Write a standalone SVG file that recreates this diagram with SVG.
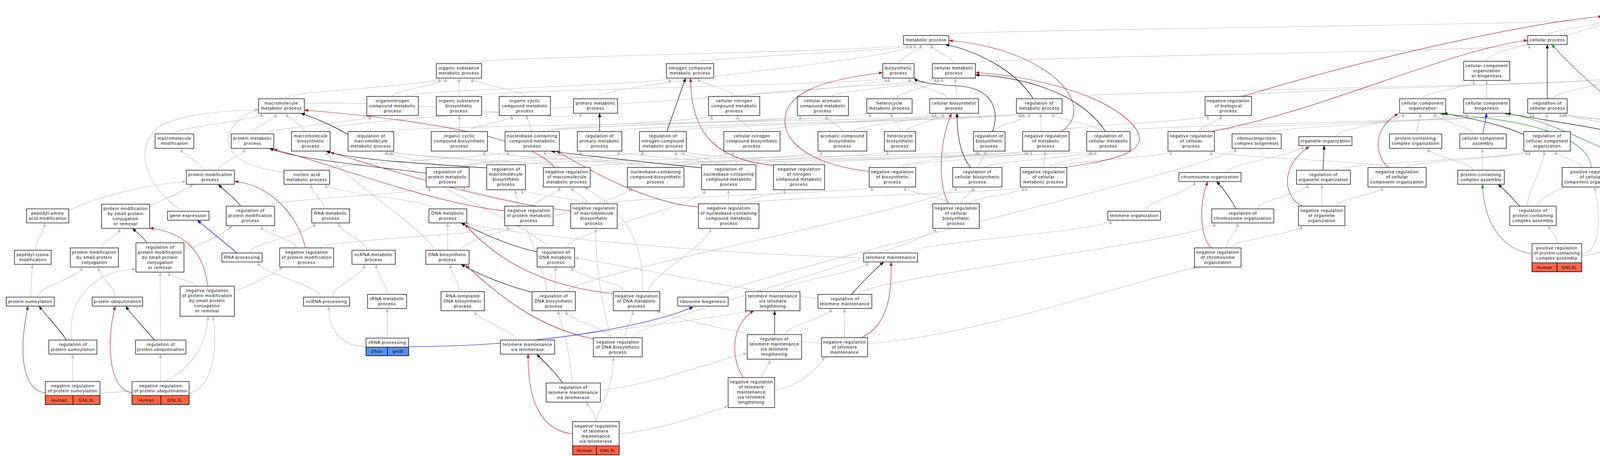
<svg xmlns="http://www.w3.org/2000/svg" width="5100" height="1168" viewBox="0 0 5100 1168">
<style>
.n rect{fill:#fff;stroke:#000;stroke-width:1.3}
.n rect.h{fill:#FF6347}
.n rect.z{fill:#5B8DEF}
.n text{font-family:"Liberation Sans",Arial,sans-serif;font-size:11px;letter-spacing:0.9px;text-anchor:middle;fill:#000}
#edges path{fill:none;stroke-width:1.2}
#edges .g path{stroke:#C0C0C0;marker-end:url(#ag)}
#edges .k path{stroke:#000;marker-end:url(#ak)}
#edges .r path{stroke:#B22222;marker-end:url(#ar)}
#edges .e path{stroke:#228B22;marker-end:url(#an)}
#edges .b path{stroke:#0000FF;marker-end:url(#ab)}
</style>
<defs>
<marker id="ag" viewBox="0 0 10 8" refX="10" refY="4" markerWidth="11" markerHeight="8" markerUnits="userSpaceOnUse" orient="auto"><path d="M0,0L10,4L0,8z" fill="#C0C0C0"/></marker>
<marker id="ak" viewBox="0 0 10 8" refX="10" refY="4" markerWidth="11" markerHeight="8" markerUnits="userSpaceOnUse" orient="auto"><path d="M0,0L10,4L0,8z" fill="#000"/></marker>
<marker id="ar" viewBox="0 0 10 8" refX="10" refY="4" markerWidth="11" markerHeight="8" markerUnits="userSpaceOnUse" orient="auto"><path d="M0,0L10,4L0,8z" fill="#B22222"/></marker>
<marker id="an" viewBox="0 0 10 8" refX="10" refY="4" markerWidth="11" markerHeight="8" markerUnits="userSpaceOnUse" orient="auto"><path d="M0,0L10,4L0,8z" fill="#228B22"/></marker>
<marker id="ab" viewBox="0 0 10 8" refX="10" refY="4" markerWidth="11" markerHeight="8" markerUnits="userSpaceOnUse" orient="auto"><path d="M0,0L10,4L0,8z" fill="#0000FF"/></marker>
</defs>
<rect width="5100" height="1168" fill="#fff"/>
<g id="edges">
<g class="g">
<path d="M2371 91C2371 76 4110 63 4110 48"/>
<path d="M3961 91C3961 76 4121 63 4121 48"/>
<path d="M4389 91C4389 76 4207 63 4207 48"/>
<path d="M4631 91C4631 76 4213 63 4213 48"/>
<path d="M3806 157C3806 119 4110 86 4110 48"/>
<path d="M4162 163C4162 146 4577 131 4577 114"/>
<path d="M1175 163C1175 146 2322 131 2322 114"/>
<path d="M1524 253C1524 213 2332 154 2332 114"/>
<path d="M1766 163C1766 146 2342 131 2342 114"/>
<path d="M2300 163C2300 146 2357 131 2357 114"/>
<path d="M2442 163C2442 146 2385 131 2385 114"/>
<path d="M2470 163C2470 146 3915 131 3915 114"/>
<path d="M4426 170C4426 150 4396 134 4396 114"/>
<path d="M4581 163C4581 146 4419 131 4419 114"/>
<path d="M4730 163C4730 146 4651 131 4651 114"/>
<path d="M4887 163C4887 146 4682 131 4682 114"/>
<path d="M720 253C720 234 1125 219 1125 200"/>
<path d="M1005 247C1005 231 1141 216 1141 200"/>
<path d="M1175 247L1175 200"/>
<path d="M1343 247C1343 231 1209 216 1209 200"/>
<path d="M1040 247C1040 231 1714 216 1714 200"/>
<path d="M1879 247C1879 231 1789 216 1789 200"/>
<path d="M1200 247C1200 231 2268 216 2268 200"/>
<path d="M820 337C820 297 2275 240 2275 200"/>
<path d="M2425 253C2425 234 2328 219 2328 200"/>
<path d="M1910 247C1910 231 2395 216 2395 200"/>
<path d="M2130 247C2130 231 2402 216 2402 200"/>
<path d="M2295 253C2295 234 2412 219 2412 200"/>
<path d="M2450 253L2445 200"/>
<path d="M3642 253C3642 237 3773 222 3773 206"/>
<path d="M3806 253L3806 206"/>
<path d="M2690 253C2690 234 4113 219 4113 200"/>
<path d="M3975 253C3975 234 4122 219 4122 200"/>
<path d="M4181 247C4181 231 4166 216 4166 200"/>
<path d="M3170 247C3170 231 4118 216 4118 200"/>
<path d="M4326 253C4326 234 4195 219 4195 200"/>
<path d="M4563 253C4563 232 4453 214 4453 193"/>
<path d="M4575 253C4575 234 4578 219 4578 200"/>
<path d="M4729 242L4729 200"/>
<path d="M4886 247L4886 200"/>
<path d="M5031 253C5031 234 4916 219 4916 200"/>
<path d="M446 343C446 324 670 309 670 290"/>
<path d="M646 343C646 324 705 309 705 290"/>
<path d="M780 337C780 321 735 306 735 290"/>
<path d="M727 440C560 425 540 330 662 278"/>
<path d="M468 541C400 500 330 400 400 330C450 290 600 282 662 282"/>
<path d="M680 343C680 327 947 312 947 296"/>
<path d="M1176 337L1176 296"/>
<path d="M1200 337C1200 323 1310 310 1310 296"/>
<path d="M1362 337L1347 296"/>
<path d="M779 265C1100 255 1470 320 1490 290"/>
<path d="M1390 337C1390 323 1822 310 1822 296"/>
<path d="M1925 337C1925 323 1888 310 1888 296"/>
<path d="M1400 337C1400 323 2049 310 2049 296"/>
<path d="M2156 337C2156 323 2116 310 2116 296"/>
<path d="M1410 337C1410 321 2227 306 2227 290"/>
<path d="M2304 337C2304 321 2282 306 2282 290"/>
<path d="M1950 337C1950 321 2388 306 2388 290"/>
<path d="M2180 337C2180 321 2395 306 2395 290"/>
<path d="M2320 337C2320 321 2414 306 2414 290"/>
<path d="M975 337C975 321 2610 306 2610 290"/>
<path d="M1560 337C1560 321 2615 306 2615 290"/>
<path d="M1720 337C1720 321 2620 306 2620 290"/>
<path d="M2545 337C2545 321 2635 306 2635 290"/>
<path d="M2665 337L2664 290"/>
<path d="M2820 337C2820 321 2696 306 2696 290"/>
<path d="M2700 337C2700 323 3092 310 3092 296"/>
<path d="M3070 337C3070 323 3125 310 3125 296"/>
<path d="M3420 350C3420 329 3592 311 3592 290"/>
<path d="M3624 343L3638 290"/>
<path d="M3770 343C3770 324 3673 309 3673 290"/>
<path d="M3240 343C3240 324 3755 309 3755 290"/>
<path d="M3960 337L3960 290"/>
<path d="M4210 337C4210 321 4003 306 4003 290"/>
<path d="M4370 337C4370 321 3995 306 3995 290"/>
<path d="M3080 337C3080 321 3919 306 3919 290"/>
<path d="M2860 337C2860 321 3925 306 3925 290"/>
<path d="M4520 343C4520 324 4008 309 4008 290"/>
<path d="M4400 337C4400 323 4223 310 4223 296"/>
<path d="M4540 343C4540 324 4359 309 4359 290"/>
<path d="M4700 350C4700 329 4594 311 4594 290"/>
<path d="M4886 343L4886 296"/>
<path d="M4910 343C4910 324 5002 309 5002 290"/>
<path d="M5037 343L5032 290"/>
<path d="M520 436C520 416 465 400 465 380"/>
<path d="M560 436C560 416 625 400 625 380"/>
<path d="M1130 429C1130 414 988 402 988 387"/>
<path d="M1280 422C1280 410 1000 399 1000 387"/>
<path d="M1430 429C1430 414 1004 402 1004 387"/>
<path d="M1400 635C1400 595 992 427 992 387"/>
<path d="M1650 429C1650 414 1240 402 1240 387"/>
<path d="M820 436C820 419 1300 404 1300 387"/>
<path d="M1660 429C1660 414 1395 402 1395 387"/>
<path d="M1840 422C1840 410 1584 399 1584 387"/>
<path d="M1170 429C1170 414 1486 402 1486 387"/>
<path d="M1850 422C1850 410 1731 399 1731 387"/>
<path d="M2030 422C2030 410 1749 399 1749 387"/>
<path d="M1180 429C1180 414 1645 402 1645 387"/>
<path d="M1700 429C1700 414 1876 402 1876 387"/>
<path d="M1710 429C1710 414 2102 402 2102 387"/>
<path d="M1720 429C1720 414 2272 402 2272 387"/>
<path d="M1310 422C1310 410 2500 399 2500 387"/>
<path d="M2300 429C2300 414 2505 402 2505 387"/>
<path d="M2502 429L2526 387"/>
<path d="M1470 429C1470 414 2625 402 2625 387"/>
<path d="M2060 422C2060 410 2630 399 2630 387"/>
<path d="M2310 429C2310 414 2640 402 2640 387"/>
<path d="M2671 429L2676 387"/>
<path d="M1880 422C1880 410 2790 399 2790 387"/>
<path d="M2520 429C2520 414 2795 402 2795 387"/>
<path d="M2690 429C2690 414 2804 402 2804 387"/>
<path d="M2700 429C2700 414 2997 402 2997 387"/>
<path d="M3550 429C3550 414 3101 402 3101 387"/>
<path d="M1830 761C1830 721 3162 420 3162 380"/>
<path d="M3140 442C3140 418 3334 397 3334 373"/>
<path d="M3770 436C3770 416 3657 400 3657 380"/>
<path d="M3795 436L3795 380"/>
<path d="M3420 436C3420 419 3908 404 3908 387"/>
<path d="M3600 429C3600 414 3915 402 3915 387"/>
<path d="M4050 429C4050 414 3983 402 3983 387"/>
<path d="M3910 528C3910 488 3953 427 3953 387"/>
<path d="M4250 429C4250 414 4234 402 4234 387"/>
<path d="M3935 528C3935 488 4175 427 4175 387"/>
<path d="M4100 429C4100 414 4339 402 4339 387"/>
<path d="M4280 429C4280 414 4364 402 4364 387"/>
<path d="M4530 535C4530 495 4420 427 4420 387"/>
<path d="M4551 436L4551 380"/>
<path d="M4760 436C4760 414 4728 395 4728 373"/>
<path d="M4922 446C4890 446 4886 420 4888 380"/>
<path d="M5042 446C5070 446 5065 410 5050 380"/>
<path d="M176 540C250 500 400 470 477 465"/>
<path d="M383 528C420 510 470 490 495 472"/>
<path d="M830 535C830 513 797 494 797 472"/>
<path d="M1110 535C1110 513 835 494 835 472"/>
<path d="M680 528C680 511 1099 496 1099 479"/>
<path d="M1340 528C1340 511 1188 496 1188 479"/>
<path d="M1500 522C1500 510 1337 498 1337 486"/>
<path d="M1400 747C1400 707 1320 526 1320 486"/>
<path d="M1370 528C1370 511 1432 496 1432 479"/>
<path d="M1505 522C1505 507 1465 494 1465 479"/>
<path d="M1645 747C1650 620 1600 540 1495 479"/>
<path d="M1180 641C1180 601 1614 519 1614 479"/>
<path d="M1450 635C1450 595 1803 526 1803 486"/>
<path d="M1865 522L1865 486"/>
<path d="M1890 522C1890 510 2009 498 2009 486"/>
<path d="M1545 522C1545 507 2232 494 2232 479"/>
<path d="M2430 522C2430 507 2317 494 2317 479"/>
<path d="M2460 522C2460 507 2491 494 2491 479"/>
<path d="M1450 747C1450 707 2447 519 2447 479"/>
<path d="M1900 522C1900 507 2619 494 2619 479"/>
<path d="M2480 522C2480 507 2627 494 2627 479"/>
<path d="M2930 541C2930 514 3058 492 3058 465"/>
<path d="M3220 535C3220 513 3347 494 3347 472"/>
<path d="M3384 528L3384 472"/>
<path d="M3420 528C3420 511 3538 496 3538 479"/>
<path d="M4049 650C4095 650 4100 560 4082 479"/>
<path d="M4049 655C4150 650 4200 560 4240 479"/>
<path d="M3987 624C3985 605 3975 595 3962 578"/>
<path d="M4544 535L4550 472"/>
<path d="M4665 741C4680 600 4650 500 4590 472"/>
<path d="M4767 535L4767 472"/>
<path d="M260 635C260 618 305 602 305 585"/>
<path d="M90 641C90 617 114 595 114 571"/>
<path d="M471 640C520 625 570 600 595 578"/>
<path d="M760 635C760 615 670 598 670 578"/>
<path d="M640 648C640 621 805 598 805 571"/>
<path d="M940 641C940 617 868 595 868 571"/>
<path d="M1146 641L1146 571"/>
<path d="M2211 660C1800 650 1300 600 1190 571"/>
<path d="M820 635C820 615 1300 598 1300 578"/>
<path d="M1565 865C1540 780 1525 680 1525 585"/>
<path d="M1660 747C1660 707 1818 625 1818 585"/>
<path d="M1620 865C1620 825 2395 625 2395 585"/>
<path d="M2330 648C2330 620 2843 592 2843 564"/>
<path d="M3140 635C3140 613 3168 593 3168 571"/>
<path d="M2200 754C2200 714 3109 611 3109 571"/>
<path d="M3150 635C3150 615 3331 598 3331 578"/>
<path d="M4590 877C4500 870 4505 700 4535 571"/>
<path d="M4767 635L4767 571"/>
<path d="M78 761L83 677"/>
<path d="M95 761C95 734 208 711 208 684"/>
<path d="M295 761C295 734 253 711 253 684"/>
<path d="M183 871C170 760 250 690 348 690"/>
<path d="M411 871L410 697"/>
<path d="M500 733C500 720 433 710 433 697"/>
<path d="M820 761C820 730 662 702 662 671"/>
<path d="M600 745C650 730 700 700 725 684"/>
<path d="M850 761C850 732 932 706 932 677"/>
<path d="M991 754C991 727 963 704 963 677"/>
<path d="M1175 747C1175 722 1153 702 1153 677"/>
<path d="M1420 747L1422 684"/>
<path d="M1600 747C1600 725 1465 706 1465 684"/>
<path d="M2094 765C1900 745 1600 680 1471 660"/>
<path d="M2000 747C2000 720 2220 698 2220 671"/>
<path d="M2221 880C2500 860 2900 720 3065 684"/>
<path d="M1560 865C1560 841 1450 820 1450 796"/>
<path d="M1465 981C1460 900 1440 840 1428 796"/>
<path d="M1600 865C1600 841 1620 820 1620 796"/>
<path d="M2103 880C1900 860 1750 820 1680 796"/>
<path d="M1400 871C1500 850 1850 815 1916 796"/>
<path d="M1320 871C1320 847 1217 820 1217 796"/>
<path d="M2010 857C2010 834 2127 813 2127 790"/>
<path d="M2162 865L2162 790"/>
<path d="M4657 847L4657 803"/>
<path d="M186 977L186 907"/>
<path d="M411 977L411 907"/>
<path d="M256 1006C400 1006 520 960 533 810"/>
<path d="M484 1006C540 1000 560 900 545 810"/>
<path d="M937 888C870 888 840 840 842 784"/>
<path d="M991 866L991 790"/>
<path d="M1525 1080C1525 1060 1510 1045 1500 1030"/>
<path d="M1525 1080C1535 1040 1570 1000 1570 914"/>
<path d="M1585 1111C1700 1100 1800 1060 1864 1040"/>
<path d="M1950 967C1950 950 1970 938 1970 921"/>
<path d="M1983 1000C2040 990 2090 950 2111 914"/>
<path d="M1537 1000C1700 980 1850 915 1913 905"/>
<path d="M1110 641C1110 601 837 427 837 387"/>
</g>
<g class="k">
<path d="M4162 163L4161 48"/>
<path d="M2645 253C2600 180 2500 130 2420 114"/>
<path d="M2830 337C2760 230 2600 195 2497 192"/>
<path d="M3961 253L3961 114"/>
<path d="M4326 253C4320 170 4340 130 4376 114"/>
<path d="M4515 343C4460 320 4430 260 4430 193"/>
<path d="M891 345C850 320 800 300 770 290"/>
<path d="M1535 337L1535 290"/>
<path d="M1707 337L1755 200"/>
<path d="M2541 337C2560 280 2540 225 2450 220C2380 216 2350 210 2340 200"/>
<path d="M2485 429C2460 400 2450 350 2450 290"/>
<path d="M1091 444C1000 430 760 410 690 380"/>
<path d="M1246 430C1100 420 900 410 835 387"/>
<path d="M616 528C600 505 575 490 559 472"/>
<path d="M1796 430C1700 420 1500 400 1410 387"/>
<path d="M1375 645C1300 630 1220 590 1180 571"/>
<path d="M1370 750C1300 735 1220 700 1180 677"/>
<path d="M3387 436L3390 373"/>
<path d="M3165 535C3150 510 3130 480 3114 465"/>
<path d="M3901 345C3850 320 3750 300 3695 290"/>
<path d="M4168 345C4050 320 3900 300 3857 290"/>
<path d="M3890 528C3870 505 3850 485 3835 472"/>
<path d="M4585 436C4620 420 4660 395 4685 373"/>
<path d="M4690 741C4710 720 4730 700 4745 684"/>
<path d="M376 622C370 610 350 595 339 585"/>
<path d="M170 871C150 840 115 805 100 784"/>
<path d="M395 871C370 840 335 805 322 784"/>
<path d="M2180 754C2200 730 2240 690 2262 671"/>
<path d="M1983 857L1983 796"/>
<path d="M1440 981C1420 950 1390 925 1374 907"/>
</g>
<g class="r">
<path d="M3180 247C3500 150 3900 60 4102 42"/>
<path d="M2717 337C2790 290 2740 180 2550 125C2500 112 2460 106 2429 104"/>
<path d="M2725 429C2850 410 2960 390 2900 320C2820 230 2600 190 2497 186"/>
<path d="M3100 337C3400 280 3700 130 3911 103"/>
<path d="M1420 429C1350 340 1000 300 779 282"/>
<path d="M1292 540C1100 520 850 420 700 382"/>
<path d="M1461 540C1250 520 950 420 845 390"/>
<path d="M1985 424C1820 410 1768 330 1768 200"/>
<path d="M2225 439C2100 425 2020 380 2010 320C2000 240 2100 205 2260 186"/>
<path d="M2428 522C2400 470 2405 360 2436 290"/>
<path d="M1788 530C1650 520 1500 430 1425 387"/>
<path d="M782 635C760 540 680 470 600 465"/>
<path d="M1570 752C1450 740 1300 700 1190 574"/>
<path d="M1519 868C1380 840 1280 760 1192 679"/>
<path d="M3100 635C3070 600 3070 520 3092 465"/>
<path d="M3335 528C3290 510 3270 430 3352 375"/>
<path d="M3555 429C3520 400 3510 330 3580 291"/>
<path d="M532 733C520 640 470 595 383 584"/>
<path d="M116 1006C50 1000 50 880 72 784"/>
<path d="M338 1006C280 1000 270 880 295 784"/>
<path d="M2205 865C2260 840 2285 780 2281 671"/>
<path d="M1903 967C1870 920 1870 830 1930 796"/>
<path d="M1466 1111C1400 1105 1350 1050 1352 907"/>
</g>
<g class="e">
<path d="M4217 247C4260 220 4270 130 4182 48"/>
<path d="M4332 345C4200 330 4100 250 3972 114"/>
<path d="M4074 429C4070 380 4000 310 3687 292"/>
<path d="M4208 429C4100 380 3950 300 3850 290"/>
<path d="M3922 650C3850 640 3800 580 3795 472"/>
<path d="M4575 535C4640 510 4680 440 4708 373"/>
<path d="M4725 877C4790 870 4790 780 4772 684"/>
</g>
<g class="b">
<path d="M607 648L505 564"/>
<path d="M1046 888C1350 888 1650 840 1775 786"/>
<path d="M3796 343L3806 290"/>
</g>
</g>
<g id="nodes">
<g id="bp" class="n"><rect x="4102" y="12" width="119" height="36"/><text x="4161.5" y="27">Biological Process<tspan x="4161.5" dy="13">Gnl3l</tspan></text></g>
<g id="metab" class="n"><rect x="2313" y="91" width="116" height="23"/><text x="2371" y="106">metabolic process</text></g>
<g id="cellproc" class="n"><rect x="3911" y="91" width="101" height="23"/><text x="3961.5" y="106">cellular process</text></g>
<g id="loc" class="n"><rect x="4351" y="91" width="76" height="23"/><text x="4389" y="106">localization</text></g>
<g id="bioreg" class="n"><rect x="4569" y="91" width="124" height="23"/><text x="4631" y="106">biological regulation</text></g>
<g id="osmp" class="n"><rect x="1117" y="163" width="116" height="37"/><text x="1175" y="178">organic substance<tspan x="1175" dy="13">metabolic process</tspan></text></g>
<g id="ncmp" class="n"><rect x="1706" y="163" width="121" height="37"/><text x="1766.5" y="178">nitrogen compound<tspan x="1766.5" dy="13">metabolic process</tspan></text></g>
<g id="biosyn" class="n"><rect x="2260" y="163" width="80" height="37"/><text x="2300" y="178">biosynthetic<tspan x="2300" dy="13">process</tspan></text></g>
<g id="cmp" class="n"><rect x="2387" y="163" width="110" height="37"/><text x="2442" y="178">cellular metabolic<tspan x="2442" dy="13">process</tspan></text></g>
<g id="ccob" class="n"><rect x="3747" y="157" width="118" height="49"/><text x="3806" y="172">cellular component<tspan x="3806" dy="13">organization</tspan><tspan x="3806" dy="13">or biogenesis</tspan></text></g>
<g id="regbp" class="n"><rect x="4105" y="163" width="115" height="37"/><text x="4162.5" y="178">regulation of<tspan x="4162.5" dy="13">biological process</tspan></text></g>
<g id="cellloc" class="n"><rect x="4366" y="170" width="121" height="23"/><text x="4426.5" y="185">cellular localization</text></g>
<g id="macloc" class="n"><rect x="4532" y="163" width="99" height="37"/><text x="4581.5" y="178">macromolecule<tspan x="4581.5" dy="13">localization</tspan></text></g>
<g id="regbq" class="n"><rect x="4677" y="163" width="106" height="37"/><text x="4730" y="178">regulation of<tspan x="4730" dy="13">biological quality</tspan></text></g>
<g id="regmf" class="n"><rect x="4829" y="163" width="116" height="37"/><text x="4887" y="178">regulation of<tspan x="4887" dy="13">molecular function</tspan></text></g>
<g id="macmp" class="n"><rect x="662" y="253" width="117" height="37"/><text x="720.5" y="268">macromolecule<tspan x="720.5" dy="13">metabolic process</tspan></text></g>
<g id="oncmp" class="n"><rect x="939" y="247" width="132" height="49"/><text x="1005" y="262">organonitrogen<tspan x="1005" dy="13">compound metabolic</tspan><tspan x="1005" dy="13">process</tspan></text></g>
<g id="osbp" class="n"><rect x="1117" y="247" width="116" height="49"/><text x="1175" y="262">organic substance<tspan x="1175" dy="13">biosynthetic</tspan><tspan x="1175" dy="13">process</tspan></text></g>
<g id="occmp" class="n"><rect x="1278" y="247" width="131" height="49"/><text x="1343.5" y="262">organic cyclic<tspan x="1343.5" dy="13">compound metabolic</tspan><tspan x="1343.5" dy="13">process</tspan></text></g>
<g id="pmp" class="n"><rect x="1468" y="253" width="113" height="37"/><text x="1524.5" y="268">primary metabolic<tspan x="1524.5" dy="13">process</tspan></text></g>
<g id="cncmp" class="n"><rect x="1814" y="247" width="131" height="49"/><text x="1879.5" y="262">cellular nitrogen<tspan x="1879.5" dy="13">compound metabolic</tspan><tspan x="1879.5" dy="13">process</tspan></text></g>
<g id="camp" class="n"><rect x="2041" y="247" width="131" height="49"/><text x="2106.5" y="262">cellular aromatic<tspan x="2106.5" dy="13">compound metabolic</tspan><tspan x="2106.5" dy="13">process</tspan></text></g>
<g id="hmp" class="n"><rect x="2219" y="253" width="116" height="37"/><text x="2277" y="268">heterocycle<tspan x="2277" dy="13">metabolic process</tspan></text></g>
<g id="cbp" class="n"><rect x="2380" y="253" width="125" height="37"/><text x="2442.5" y="268">cellular biosynthetic<tspan x="2442.5" dy="13">process</tspan></text></g>
<g id="regmp" class="n"><rect x="2602" y="253" width="117" height="37"/><text x="2660.5" y="268">regulation of<tspan x="2660.5" dy="13">metabolic process</tspan></text></g>
<g id="nrbp" class="n"><rect x="3085" y="247" width="119" height="49"/><text x="3144.5" y="262">negative regulation<tspan x="3144.5" dy="13">of biological</tspan><tspan x="3144.5" dy="13">process</tspan></text></g>
<g id="cco" class="n"><rect x="3583" y="253" width="118" height="37"/><text x="3642" y="268">cellular component<tspan x="3642" dy="13">organization</tspan></text></g>
<g id="ccb" class="n"><rect x="3747" y="253" width="118" height="37"/><text x="3806" y="268">cellular component<tspan x="3806" dy="13">biogenesis</tspan></text></g>
<g id="regcp" class="n"><rect x="3911" y="253" width="101" height="37"/><text x="3961.5" y="268">regulation of<tspan x="3961.5" dy="13">cellular process</tspan></text></g>
<g id="prbp" class="n"><rect x="4124" y="247" width="115" height="49"/><text x="4181.5" y="262">positive regulation<tspan x="4181.5" dy="13">of biological</tspan><tspan x="4181.5" dy="13">process</tspan></text></g>
<g id="regloc" class="n"><rect x="4285" y="253" width="82" height="37"/><text x="4326" y="268">regulation of<tspan x="4326" dy="13">localization</tspan></text></g>
<g id="cmacloc" class="n"><rect x="4491" y="253" width="144" height="37"/><text x="4563" y="268">cellular macromolecule<tspan x="4563" dy="13">localization</tspan></text></g>
<g id="regps" class="n"><rect x="4679" y="242" width="101" height="59"/><rect class="h" x="4679" y="278" width="51" height="23"/><rect class="h" x="4730" y="278" width="50" height="23"/><text x="4729.5" y="257">regulation of<tspan x="4729.5" dy="13">protein stability</tspan></text><text x="4704.5" y="294">Human</text><text x="4755" y="294">GNL3L</text></g>
<g id="nrmf" class="n"><rect x="4827" y="247" width="118" height="49"/><text x="4886" y="262">negative regulation<tspan x="4886" dy="13">of molecular</tspan><tspan x="4886" dy="13">function</tspan></text></g>
<g id="regbind" class="n"><rect x="4990" y="253" width="82" height="37"/><text x="5031" y="268">regulation of<tspan x="5031" dy="13">binding</tspan></text></g>
<g id="macmod" class="n"><rect x="397" y="343" width="99" height="37"/><text x="446.5" y="358">macromolecule<tspan x="446.5" dy="13">modification</tspan></text></g>
<g id="protmp" class="n"><rect x="592" y="343" width="109" height="37"/><text x="646.5" y="358">protein metabolic<tspan x="646.5" dy="13">process</tspan></text></g>
<g id="macbp" class="n"><rect x="746" y="337" width="99" height="50"/><text x="795.5" y="352">macromolecule<tspan x="795.5" dy="13">biosynthetic</tspan><tspan x="795.5" dy="13">process</tspan></text></g>
<g id="regmacmp" class="n"><rect x="891" y="337" width="117" height="50"/><text x="949.5" y="352">regulation of<tspan x="949.5" dy="13">macromolecule</tspan><tspan x="949.5" dy="13">metabolic process</tspan></text></g>
<g id="occbp" class="n"><rect x="1104" y="337" width="144" height="50"/><text x="1176" y="352">organic cyclic<tspan x="1176" dy="13">compound biosynthetic</tspan><tspan x="1176" dy="13">process</tspan></text></g>
<g id="nccmp" class="n"><rect x="1293" y="337" width="139" height="50"/><text x="1362.5" y="352">nucleobase-containing<tspan x="1362.5" dy="13">compound metabolic</tspan><tspan x="1362.5" dy="13">process</tspan></text></g>
<g id="regpmp" class="n"><rect x="1478" y="337" width="114" height="50"/><text x="1535" y="352">regulation of<tspan x="1535" dy="13">primary metabolic</tspan><tspan x="1535" dy="13">process</tspan></text></g>
<g id="regncmp" class="n"><rect x="1637" y="337" width="120" height="50"/><text x="1697" y="352">regulation of<tspan x="1697" dy="13">nitrogen compound</tspan><tspan x="1697" dy="13">metabolic process</tspan></text></g>
<g id="cncbp" class="n"><rect x="1853" y="337" width="144" height="50"/><text x="1925" y="352">cellular nitrogen<tspan x="1925" dy="13">compound biosynthetic</tspan><tspan x="1925" dy="13">process</tspan></text></g>
<g id="acbp" class="n"><rect x="2094" y="337" width="125" height="50"/><text x="2156.5" y="352">aromatic compound<tspan x="2156.5" dy="13">biosynthetic</tspan><tspan x="2156.5" dy="13">process</tspan></text></g>
<g id="hbp" class="n"><rect x="2264" y="337" width="80" height="50"/><text x="2304" y="352">heterocycle<tspan x="2304" dy="13">biosynthetic</tspan><tspan x="2304" dy="13">process</tspan></text></g>
<g id="regbiosyn" class="n"><rect x="2492" y="337" width="81" height="50"/><text x="2532.5" y="352">regulation of<tspan x="2532.5" dy="13">biosynthetic</tspan><tspan x="2532.5" dy="13">process</tspan></text></g>
<g id="nrmp" class="n"><rect x="2618" y="337" width="119" height="50"/><text x="2677.5" y="352">negative regulation<tspan x="2677.5" dy="13">of metabolic</tspan><tspan x="2677.5" dy="13">process</tspan></text></g>
<g id="regcmp" class="n"><rect x="2782" y="337" width="111" height="50"/><text x="2837.5" y="352">regulation of<tspan x="2837.5" dy="13">cellular metabolic</tspan><tspan x="2837.5" dy="13">process</tspan></text></g>
<g id="nrcp" class="n"><rect x="2990" y="337" width="119" height="50"/><text x="3049.5" y="352">negative regulation<tspan x="3049.5" dy="13">of cellular</tspan><tspan x="3049.5" dy="13">process</tspan></text></g>
<g id="rnpcb" class="n"><rect x="3154" y="343" width="126" height="37"/><text x="3217" y="358">ribonucleoprotein<tspan x="3217" dy="13">complex biogenesis</tspan></text></g>
<g id="orgorg" class="n"><rect x="3325" y="350" width="136" height="23"/><text x="3393" y="365">organelle organization</text></g>
<g id="pcco" class="n"><rect x="3557" y="343" width="134" height="37"/><text x="3624" y="358">protein-containing<tspan x="3624" dy="13">complex organization</tspan></text></g>
<g id="cca" class="n"><rect x="3737" y="343" width="119" height="37"/><text x="3796.5" y="358">cellular component<tspan x="3796.5" dy="13">assembly</tspan></text></g>
<g id="regcco" class="n"><rect x="3901" y="337" width="119" height="50"/><text x="3960.5" y="352">regulation of<tspan x="3960.5" dy="13">cellular component</tspan><tspan x="3960.5" dy="13">organization</tspan></text></g>
<g id="regccb" class="n"><rect x="4168" y="337" width="119" height="50"/><text x="4227.5" y="352">regulation of<tspan x="4227.5" dy="13">cellular component</tspan><tspan x="4227.5" dy="13">biogenesis</tspan></text></g>
<g id="prcp" class="n"><rect x="4332" y="337" width="115" height="50"/><text x="4389.5" y="352">positive regulation<tspan x="4389.5" dy="13">of cellular</tspan><tspan x="4389.5" dy="13">process</tspan></text></g>
<g id="regcellloc" class="n"><rect x="4491" y="343" width="121" height="37"/><text x="4551.5" y="358">regulation of<tspan x="4551.5" dy="13">cellular localization</tspan></text></g>
<g id="protloc" class="n"><rect x="4659" y="350" width="118" height="23"/><text x="4718" y="365">protein localization</text></g>
<g id="nrbind" class="n"><rect x="4827" y="343" width="118" height="37"/><text x="4886" y="358">negative regulation<tspan x="4886" dy="13">of binding</tspan></text></g>
<g id="regpb" class="n"><rect x="4990" y="343" width="95" height="37"/><text x="5037.5" y="358">regulation of<tspan x="5037.5" dy="13">protein binding</tspan></text></g>
<g id="pmodp" class="n"><rect x="477" y="436" width="123" height="36"/><text x="538.5" y="451">protein modification<tspan x="538.5" dy="13">process</tspan></text></g>
<g id="nameta" class="n"><rect x="727" y="436" width="117" height="36"/><text x="785.5" y="451">nucleic acid<tspan x="785.5" dy="13">metabolic process</tspan></text></g>
<g id="regprotmp" class="n"><rect x="1091" y="429" width="110" height="50"/><text x="1146" y="444">regulation of<tspan x="1146" dy="13">protein metabolic</tspan><tspan x="1146" dy="13">process</tspan></text></g>
<g id="regmacbp" class="n"><rect x="1246" y="422" width="99" height="64"/><text x="1295.5" y="437">regulation of<tspan x="1295.5" dy="13">macromolecule</tspan><tspan x="1295.5" dy="13">biosynthetic</tspan><tspan x="1295.5" dy="13">process</tspan></text></g>
<g id="nrmacmp" class="n"><rect x="1391" y="429" width="120" height="50"/><text x="1451" y="444">negative regulation<tspan x="1451" dy="13">of macromolecule</tspan><tspan x="1451" dy="13">metabolic process</tspan></text></g>
<g id="ncbp" class="n"><rect x="1606" y="429" width="145" height="50"/><text x="1678.5" y="444">nucleobase-containing<tspan x="1678.5" dy="13">compound biosynthetic</tspan><tspan x="1678.5" dy="13">process</tspan></text></g>
<g id="regnccmp" class="n"><rect x="1796" y="422" width="139" height="64"/><text x="1865.5" y="437">regulation of<tspan x="1865.5" dy="13">nucleobase-containing</tspan><tspan x="1865.5" dy="13">compound metabolic</tspan><tspan x="1865.5" dy="13">process</tspan></text></g>
<g id="nrncmp" class="n"><rect x="1980" y="422" width="131" height="64"/><text x="2045.5" y="437">negative regulation<tspan x="2045.5" dy="13">of nitrogen</tspan><tspan x="2045.5" dy="13">compound metabolic</tspan><tspan x="2045.5" dy="13">process</tspan></text></g>
<g id="nrbiosyn" class="n"><rect x="2225" y="429" width="119" height="50"/><text x="2284.5" y="444">negative regulation<tspan x="2284.5" dy="13">of biosynthetic</tspan><tspan x="2284.5" dy="13">process</tspan></text></g>
<g id="regcbp" class="n"><rect x="2439" y="429" width="126" height="50"/><text x="2502" y="444">regulation of<tspan x="2502" dy="13">cellular biosynthetic</tspan><tspan x="2502" dy="13">process</tspan></text></g>
<g id="nrcmp" class="n"><rect x="2612" y="429" width="119" height="50"/><text x="2671.5" y="444">negative regulation<tspan x="2671.5" dy="13">of cellular</tspan><tspan x="2671.5" dy="13">metabolic process</tspan></text></g>
<g id="chrorg" class="n"><rect x="3018" y="442" width="159" height="23"/><text x="3097.5" y="457">chromosome organization</text></g>
<g id="regorgorg" class="n"><rect x="3319" y="436" width="138" height="36"/><text x="3388" y="451">regulation of<tspan x="3388" dy="13">organelle organization</tspan></text></g>
<g id="nrcco" class="n"><rect x="3502" y="429" width="149" height="50"/><text x="3576.5" y="444">negative regulation<tspan x="3576.5" dy="13">of cellular</tspan><tspan x="3576.5" dy="13">component organization</tspan></text></g>
<g id="pcca" class="n"><rect x="3732" y="436" width="119" height="36"/><text x="3791.5" y="451">protein-containing<tspan x="3791.5" dy="13">complex assembly</tspan></text></g>
<g id="prcco" class="n"><rect x="3999" y="429" width="148" height="50"/><text x="4073" y="444">positive regulation<tspan x="4073" dy="13">of cellular</tspan><tspan x="4073" dy="13">component organization</tspan></text></g>
<g id="prccb" class="n"><rect x="4192" y="429" width="140" height="50"/><text x="4262" y="444">positive regulation<tspan x="4262" dy="13">of cellular</tspan><tspan x="4262" dy="13">component biogenesis</tspan></text></g>
<g id="regprotloc" class="n"><rect x="4491" y="436" width="120" height="36"/><text x="4551" y="451">regulation of<tspan x="4551" dy="13">protein localization</tspan></text></g>
<g id="plorg" class="n"><rect x="4707" y="436" width="120" height="36"/><text x="4767" y="451">protein localization<tspan x="4767" dy="13">to organelle</tspan></text></g>
<g id="nrpb" class="n"><rect x="4922" y="425" width="120" height="59"/><rect class="h" x="4922" y="461" width="60" height="23"/><rect class="h" x="4982" y="461" width="60" height="23"/><text x="4982" y="440">negative regulation<tspan x="4982" dy="13">of protein binding</tspan></text><text x="4952" y="477">Human</text><text x="5012" y="477">GNL3L</text></g>
<g id="pama" class="n"><rect x="68" y="535" width="108" height="36"/><text x="122" y="550">peptidyl-amino<tspan x="122" dy="13">acid modification</tspan></text></g>
<g id="pmspcr" class="n"><rect x="260" y="523" width="123" height="62"/><text x="321.5" y="538">protein modification<tspan x="321.5" dy="13">by small protein</tspan><tspan x="321.5" dy="13">conjugation</tspan><tspan x="321.5" dy="13">or removal</tspan></text></g>
<g id="geneexp" class="n"><rect x="429" y="541" width="106" height="23"/><text x="482" y="556">gene expression</text></g>
<g id="regpmp2" class="n"><rect x="579" y="528" width="124" height="50"/><text x="641" y="543">regulation of<tspan x="641" dy="13">protein modification</tspan><tspan x="641" dy="13">process</tspan></text></g>
<g id="rnamp" class="n"><rect x="798" y="535" width="97" height="36"/><text x="846.5" y="550">RNA metabolic<tspan x="846.5" dy="13">process</tspan></text></g>
<g id="dnamp" class="n"><rect x="1098" y="535" width="97" height="36"/><text x="1146.5" y="550">DNA metabolic<tspan x="1146.5" dy="13">process</tspan></text></g>
<g id="nrprotmp" class="n"><rect x="1292" y="528" width="124" height="50"/><text x="1354" y="543">negative regulation<tspan x="1354" dy="13">of protein metabolic</tspan><tspan x="1354" dy="13">process</tspan></text></g>
<g id="nrmacbp" class="n"><rect x="1461" y="522" width="119" height="63"/><text x="1520.5" y="537">negative regulation<tspan x="1520.5" dy="13">of macromolecule</tspan><tspan x="1520.5" dy="13">biosynthetic</tspan><tspan x="1520.5" dy="13">process</tspan></text></g>
<g id="nrnccmp" class="n"><rect x="1788" y="522" width="155" height="63"/><text x="1865.5" y="537">negative regulation<tspan x="1865.5" dy="13">of nucleobase-containing</tspan><tspan x="1865.5" dy="13">compound metabolic</tspan><tspan x="1865.5" dy="13">process</tspan></text></g>
<g id="nrcbp" class="n"><rect x="2388" y="522" width="119" height="63"/><text x="2447.5" y="537">negative regulation<tspan x="2447.5" dy="13">of cellular</tspan><tspan x="2447.5" dy="13">biosynthetic</tspan><tspan x="2447.5" dy="13">process</tspan></text></g>
<g id="telorg" class="n"><rect x="2836" y="541" width="135" height="23"/><text x="2903.5" y="556">telomere organization</text></g>
<g id="regchrorg" class="n"><rect x="3102" y="535" width="159" height="36"/><text x="3181.5" y="550">regulation of<tspan x="3181.5" dy="13">chromosome organization</tspan></text></g>
<g id="nrorgorg" class="n"><rect x="3324" y="528" width="119" height="50"/><text x="3383.5" y="543">negative regulation<tspan x="3383.5" dy="13">of organelle</tspan><tspan x="3383.5" dy="13">organization</tspan></text></g>
<g id="regpcca" class="n"><rect x="3865" y="528" width="119" height="50"/><text x="3924.5" y="543">regulation of<tspan x="3924.5" dy="13">protein-containing</tspan><tspan x="3924.5" dy="13">complex assembly</tspan></text></g>
<g id="prprotloc" class="n"><rect x="4477" y="535" width="134" height="36"/><text x="4544" y="550">positive regulation<tspan x="4544" dy="13">of protein localization</tspan></text></g>
<g id="plchr" class="n"><rect x="4707" y="535" width="120" height="36"/><text x="4767" y="550">protein localization<tspan x="4767" dy="13">to chromosome</tspan></text></g>
<g id="plm" class="n"><rect x="37" y="641" width="94" height="36"/><text x="84" y="656">peptidyl-lysine<tspan x="84" dy="13">modification</tspan></text></g>
<g id="pmspc" class="n"><rect x="180" y="635" width="123" height="49"/><text x="241.5" y="650">protein modification<tspan x="241.5" dy="13">by small protein</tspan><tspan x="241.5" dy="13">conjugation</tspan></text></g>
<g id="regpmspcr" class="n"><rect x="348" y="622" width="123" height="75"/><text x="409.5" y="637">regulation of<tspan x="409.5" dy="13">protein modification</tspan><tspan x="409.5" dy="13">by small protein</tspan><tspan x="409.5" dy="13">conjugation</tspan><tspan x="409.5" dy="13">or removal</tspan></text></g>
<g id="rnaproc" class="n"><rect x="568" y="648" width="103" height="23"/><text x="619.5" y="663">RNA processing</text></g>
<g id="nrpmp" class="n"><rect x="716" y="635" width="138" height="49"/><text x="785" y="650">negative regulation<tspan x="785" dy="13">of protein modification</tspan><tspan x="785" dy="13">process</tspan></text></g>
<g id="ncrnamp" class="n"><rect x="901" y="641" width="111" height="36"/><text x="956.5" y="656">ncRNA metabolic<tspan x="956.5" dy="13">process</tspan></text></g>
<g id="dnabp" class="n"><rect x="1090" y="641" width="111" height="36"/><text x="1145.5" y="656">DNA biosynthetic<tspan x="1145.5" dy="13">process</tspan></text></g>
<g id="regdnamp" class="n"><rect x="1375" y="635" width="96" height="49"/><text x="1423" y="650">regulation of<tspan x="1423" dy="13">DNA metabolic</tspan><tspan x="1423" dy="13">process</tspan></text></g>
<g id="telmain" class="n"><rect x="2211" y="648" width="138" height="23"/><text x="2280" y="663">telomere maintenance</text></g>
<g id="nrchrorg" class="n"><rect x="3058" y="635" width="119" height="49"/><text x="3117.5" y="650">negative regulation<tspan x="3117.5" dy="13">of chromosome</tspan><tspan x="3117.5" dy="13">organization</tspan></text></g>
<g id="prpcca" class="n"><rect x="3922" y="624" width="127" height="72"/><rect class="h" x="3922" y="673" width="64" height="23"/><rect class="h" x="3986" y="673" width="63" height="23"/><text x="3985.5" y="639">positive regulation<tspan x="3985.5" dy="13">of protein-containing</tspan><tspan x="3985.5" dy="13">complex assembly</tspan></text><text x="3954" y="689">Human</text><text x="4017.5" y="689">GNL3L</text></g>
<g id="pltel" class="n"><rect x="4707" y="635" width="120" height="49"/><text x="4767" y="650">protein localization<tspan x="4767" dy="13">to chromosome,</tspan><tspan x="4767" dy="13">telomeric region</tspan></text></g>
<g id="psumo" class="n"><rect x="16" y="761" width="123" height="23"/><text x="77.5" y="776">protein sumoylation</text></g>
<g id="pubiq" class="n"><rect x="236" y="761" width="129" height="23"/><text x="300.5" y="776">protein ubiquitination</text></g>
<g id="nrpmspcr" class="n"><rect x="461" y="733" width="139" height="77"/><text x="530.5" y="748">negative regulation<tspan x="530.5" dy="13">of protein modification</tspan><tspan x="530.5" dy="13">by small protein</tspan><tspan x="530.5" dy="13">conjugation</tspan><tspan x="530.5" dy="13">or removal</tspan></text></g>
<g id="ncrnaproc" class="n"><rect x="777" y="761" width="118" height="23"/><text x="836" y="776">ncRNA processing</text></g>
<g id="rrnamp" class="n"><rect x="941" y="754" width="100" height="36"/><text x="991" y="769">rRNA metabolic<tspan x="991" dy="13">process</tspan></text></g>
<g id="rtdbp" class="n"><rect x="1129" y="747" width="111" height="49"/><text x="1184.5" y="762">RNA-templated<tspan x="1184.5" dy="13">DNA biosynthetic</tspan><tspan x="1184.5" dy="13">process</tspan></text></g>
<g id="regdnabp" class="n"><rect x="1362" y="747" width="111" height="49"/><text x="1417.5" y="762">regulation of<tspan x="1417.5" dy="13">DNA biosynthetic</tspan><tspan x="1417.5" dy="13">process</tspan></text></g>
<g id="nrdnamp" class="n"><rect x="1570" y="747" width="119" height="49"/><text x="1629.5" y="762">negative regulation<tspan x="1629.5" dy="13">of DNA metabolic</tspan><tspan x="1629.5" dy="13">process</tspan></text></g>
<g id="ribobio" class="n"><rect x="1735" y="761" width="129" height="23"/><text x="1799.5" y="776">ribosome biogenesis</text></g>
<g id="tmvtl" class="n"><rect x="1909" y="747" width="139" height="49"/><text x="1978.5" y="762">telomere maintenance<tspan x="1978.5" dy="13">via telomere</tspan><tspan x="1978.5" dy="13">lengthening</tspan></text></g>
<g id="regtm" class="n"><rect x="2094" y="754" width="138" height="36"/><text x="2163" y="769">regulation of<tspan x="2163" dy="13">telomere maintenance</tspan></text></g>
<g id="regpltel" class="n"><rect x="4598" y="741" width="119" height="62"/><text x="4657.5" y="756">regulation of<tspan x="4657.5" dy="13">protein localization</tspan><tspan x="4657.5" dy="13">to chromosome,</tspan><tspan x="4657.5" dy="13">telomeric region</tspan></text></g>
<g id="regsumo" class="n"><rect x="125" y="871" width="123" height="36"/><text x="186.5" y="886">regulation of<tspan x="186.5" dy="13">protein sumoylation</tspan></text></g>
<g id="regubiq" class="n"><rect x="347" y="871" width="129" height="36"/><text x="411.5" y="886">regulation of<tspan x="411.5" dy="13">protein ubiquitination</tspan></text></g>
<g id="rrnaproc" class="n"><rect x="937" y="866" width="109" height="45"/><rect class="z" x="937" y="889" width="55" height="22"/><rect class="z" x="992" y="889" width="54" height="22"/><text x="991.5" y="881">rRNA processing</text><text x="964.5" y="904">Zfish</text><text x="1019" y="904">gnl3l</text></g>
<g id="tmvt" class="n"><rect x="1281" y="871" width="139" height="36"/><text x="1350.5" y="886">telomere maintenance<tspan x="1350.5" dy="13">via telomerase</tspan></text></g>
<g id="nrdnabp" class="n"><rect x="1519" y="865" width="125" height="49"/><text x="1581.5" y="880">negative regulation<tspan x="1581.5" dy="13">of DNA biosynthetic</tspan><tspan x="1581.5" dy="13">process</tspan></text></g>
<g id="regtmvtl" class="n"><rect x="1913" y="857" width="139" height="63"/><text x="1982.5" y="872">regulation of<tspan x="1982.5" dy="13">telomere maintenance</tspan><tspan x="1982.5" dy="13">via telomere</tspan><tspan x="1982.5" dy="13">lengthening</tspan></text></g>
<g id="nrtm" class="n"><rect x="2103" y="865" width="118" height="49"/><text x="2162" y="880">negative regulation<tspan x="2162" dy="13">of telomere</tspan><tspan x="2162" dy="13">maintenance</tspan></text></g>
<g id="prpltel" class="n"><rect x="4590" y="847" width="135" height="85"/><rect class="h" x="4590" y="909" width="68" height="23"/><rect class="h" x="4658" y="909" width="67" height="23"/><text x="4657.5" y="862">positive regulation<tspan x="4657.5" dy="13">of protein localization</tspan><tspan x="4657.5" dy="13">to chromosome,</tspan><tspan x="4657.5" dy="13">telomeric region</tspan></text><text x="4624" y="925">Human</text><text x="4691.5" y="925">GNL3L</text></g>
<g id="nrsumo" class="n"><rect x="116" y="977" width="140" height="59"/><rect class="h" x="116" y="1013" width="71" height="23"/><rect class="h" x="187" y="1013" width="69" height="23"/><text x="186" y="992">negative regulation<tspan x="186" dy="13">of protein sumoylation</tspan></text><text x="151.5" y="1029">Human</text><text x="221.5" y="1029">GNL3L</text></g>
<g id="nrubiq" class="n"><rect x="338" y="977" width="146" height="59"/><rect class="h" x="338" y="1013" width="74" height="23"/><rect class="h" x="412" y="1013" width="72" height="23"/><text x="411" y="992">negative regulation<tspan x="411" dy="13">of protein ubiquitination</tspan></text><text x="375" y="1029">Human</text><text x="448" y="1029">GNL3L</text></g>
<g id="regtmvt" class="n"><rect x="1398" y="981" width="139" height="49"/><text x="1467.5" y="996">regulation of<tspan x="1467.5" dy="13">telomere maintenance</tspan><tspan x="1467.5" dy="13">via telomerase</tspan></text></g>
<g id="nrtmvtl" class="n"><rect x="1864" y="967" width="119" height="77"/><text x="1923.5" y="982">negative regulation<tspan x="1923.5" dy="13">of telomere</tspan><tspan x="1923.5" dy="13">maintenance</tspan><tspan x="1923.5" dy="13">via telomere</tspan><tspan x="1923.5" dy="13">lengthening</tspan></text></g>
<g id="nrtmvt" class="n"><rect x="1466" y="1080" width="119" height="85"/><rect class="h" x="1466" y="1142" width="61" height="23"/><rect class="h" x="1527" y="1142" width="58" height="23"/><text x="1525.5" y="1095">negative regulation<tspan x="1525.5" dy="13">of telomere</tspan><tspan x="1525.5" dy="13">maintenance</tspan><tspan x="1525.5" dy="13">via telomerase</tspan></text><text x="1496.5" y="1158">Human</text><text x="1556" y="1158">GNL3L</text></g>
</g>
</svg>
